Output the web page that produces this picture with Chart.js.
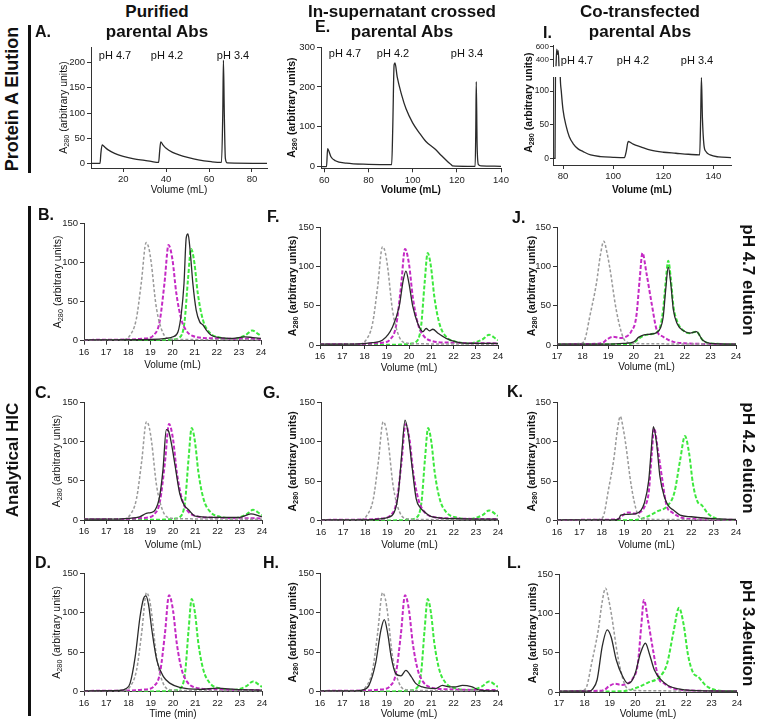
<!DOCTYPE html>
<html>
<head>
<meta charset="utf-8">
<script src="https://cdn.jsdelivr.net/npm/chart.js@4"></script>
<style>
body { margin: 0; width: 760px; height: 722px; position: relative; background: #fff; overflow: hidden;
       font-family: "Liberation Sans", Arial, sans-serif; color: #111; }
canvas, .t, .bar { position: absolute; }
.t { white-space: nowrap; line-height: 1; }
.bar { background: #111; width: 3px; }
</style>
</head>
<body>
<script>
// ---------- data ----------
// Protein A elution traces (volume mL, A280)
const elutionA = [[5,0],[9.2,0],[9.6,20],[10.2,37],[11,34],[13,27],[16,20],[20,14],[25,9],[30,6],[33,4],[36.5,2],
  [37,25],[37.5,43],[38.5,37],[40,30],[43,22],[46,17],[50,12],[55,7],[61,3.5],[65.8,2],[66.4,100],[66.7,205],
  [67.1,100],[67.6,10],[68.5,1],[87,0]];
const elutionE = [[58.5,0],[61,0],[61.5,45],[62,40],[63,25],[65,15],[70,9],[80,6],[90.5,5],[91,100],[91.6,255],
  [92,260],[93,225],[95,180],[97,145],[100,110],[103,85],[106,63],[110,45],[113,28],[116,12],[117.5,5],[118,2],
  [125,1],[128.3,1],[128.6,100],[128.8,213],[129.2,50],[129.8,5],[131,2],[140,1]];
const elutionI = [[76,0],[76.8,0],[77.2,300],[77.5,560],[77.8,480],[78.1,540],[78.5,200],[78.9,121],[79.3,100],
  [80,72],[81.3,47],[82.5,32],[84,22],[86,14],[88,10],[91,5],[95,2.5],[100,1.5],[104.5,1],[105.2,10],[106,25],
  [108,21],[111,17],[115,12],[120,9],[125,7.5],[130,6],[134.5,5],[134.9,60],[135.2,120],[135.6,60],[136.2,20],
  [137,10],[138.7,5],[142,2],[147,1]];

// HIC reference standards, columns 1 and 2
const grayRef = [[16,1],[17.8,1.5],[18.06,6],[18.36,27],[18.59,74],[18.81,125],[18.93,118],[19.04,99],[19.26,44],
  [19.56,10.5],[19.86,2.5],[20.5,1.5],[24,1]];
const magentaRef = [[16,1],[18,1.5],[18.6,2.5],[19,4],[19.11,6],[19.41,23],[19.64,74],[19.82,122],[20,103],
  [20.17,61],[20.4,27],[20.62,13],[20.92,6],[21.8,3],[24,2]];
const greenRef = [[16,0],[19.6,0.5],[20,1.5],[20.32,4],[20.54,23],[20.7,78],[20.84,117],[20.99,99],[21.14,61],
  [21.37,27],[21.67,10.5],[22.12,4],[22.7,2],[23.3,7],[23.6,13],[23.9,8],[24,6]];

// HIC reference standards, column 3
const grayRef3 = [[16,1],[17,1],[17.95,2],[18.1,8],[18.28,36],[18.54,78],[18.7,115],[18.83,132],[18.95,118],
  [19.06,99],[19.32,44],[19.58,10],[19.78,3],[20,2],[21,1.5],[24,1]];
const magentaRef3 = [[16,1],[18.6,1.5],[18.8,3],[18.95,7],[19.2,10.5],[19.45,9],[19.7,10.5],[19.9,17],[20.1,36],
  [20.24,86],[20.34,117],[20.5,91],[20.7,53],[20.9,19],[21.15,10.5],[21.55,4],[22.1,2],[23,1.3],[24,1]];
const greenRef3 = [[16,0],[19.5,1],[20.1,6],[20.5,12],[20.95,19],[21.25,36],[21.5,76],[21.72,107],[21.9,86],
  [22.08,46],[22.3,23],[22.45,20],[22.75,9],[23,4],[23.6,1],[24,1]];
const greenJ = [[17,1],[19.8,1],[20,3],[20.2,8],[20.4,12],[20.7,14],[20.9,16],[21.05,25],[21.15,45],[21.25,80],
  [21.35,107],[21.45,85],[21.55,50],[21.7,30],[21.95,18],[22.2,15],[22.45,17],[22.7,6],[23,2],[24,1]];

// HIC sample traces
const hicB = [[16,1],[19,1.5],[19.72,3],[20.02,5],[20.25,11.5],[20.4,35],[20.52,73],[20.62,131],[20.7,136],[20.8,114],
  [20.92,73],[21.07,39],[21.23,24],[21.38,20],[21.53,13.6],[21.75,7],[22.13,4],[22.73,3],[23.25,5],[23.63,4],[24,3]];
const hicC = [[16,1],[17.5,1],[18,2],[18.5,4],[18.8,8.5],[19,9.4],[19.2,12.8],[19.4,30],[19.55,64],[19.7,115],
  [19.8,113],[19.95,94],[20.1,68],[20.3,34],[20.5,19],[20.7,13],[21,5],[22,3.4],[23,3.4],[23.5,7.7],[23.8,6],[24,4]];
const hicD = [[16,1],[17.6,1.5],[17.9,4],[18.07,10.5],[18.3,44],[18.52,95],[18.68,118],[18.78,121],[18.9,110],
  [19.05,78],[19.27,40],[19.57,19],[19.87,10.5],[20.3,5.5],[21.2,3],[22,4.5],[22.8,3],[24,2]];
const hicF = [[16,1],[17.8,1.5],[18.36,3],[18.8,6],[19.26,23],[19.56,49],[19.74,82],[19.86,94],[20,78],[20.17,49],
  [20.4,27],[20.62,17],[20.77,21],[20.92,18],[21.07,20],[21.3,15],[21.67,8.4],[22.12,4],[22.7,2],[24,2]];
const hicG = [[16,1],[18,1],[18.6,2],[19,4],[19.3,10],[19.5,35],[19.65,85],[19.8,127],[19.95,108],[20.1,72],
  [20.3,28],[20.5,16],[20.6,13],[21,5],[22,2.5],[23,2],[24,2]];
const hicH = [[16,1],[17.6,1],[17.9,2],[18.2,8],[18.5,36],[18.74,78],[18.89,91],[19.04,74],[19.2,44],[19.4,23],
  [19.64,20],[19.86,27],[20.1,19],[20.3,10.5],[20.6,6],[21.2,4],[21.5,8],[21.8,6],[22.1,6],[22.4,8],[22.8,6.5],
  [23.17,2],[24,1]];
const hicJ = [[17,1],[19,1],[19.6,2],[20,4],[20.2,10],[20.4,13],[20.7,14],[20.9,16],[21.05,22],[21.15,35],[21.25,70],
  [21.35,99],[21.45,78],[21.55,45],[21.7,27],[21.95,18],[22.2,15],[22.45,17],[22.7,6],[23,2],[24,1]];
const hicK = [[16,1],[18.5,1],[18.75,2],[18.85,7],[19.1,8],[19.5,8.5],[19.75,13],[19.9,22],[20.1,51],[20.2,85],
  [20.31,119],[20.45,98],[20.6,56],[20.8,30],[21,18],[21.2,13.5],[21.5,7],[22,5],[23,2.5],[24,1.5]];
const hicL = [[17,1],[18.2,1],[18.3,3],[18.5,15.6],[18.7,58],[18.9,79],[19.05,70],[19.25,41],[19.5,20],[19.7,11],
  [19.85,13.5],[20,24],[20.2,49],[20.4,62],[20.55,49],[20.75,28],[21,16],[21.3,8],[21.7,4],[22.2,2],[24,1]];

// tick labels
const aXTicks = [20, 40, 60, 80];
const aYTicks = [0, 50, 100, 150, 200];
const eXTicks = [60, 80, 100, 120, 140];
const eYTicks = [0, 100, 200, 300];
const iXTicks = [80, 100, 120, 140];
const iYTicksLow = [0, 50, 100];
const iYTicksHigh = [400, 600];
const hicXTicks16 = [16, 17, 18, 19, 20, 21, 22, 23, 24];
const hicXTicks17 = [17, 18, 19, 20, 21, 22, 23, 24];
const hicYTicks = [0, 50, 100, 150];

// texts
const yTitleParts = ['A', '280', ' (arbitrary units)'];
const volTitle = 'Volume (mL)';
const timeTitle = 'Time (min)';
const headerLines = [['Purified', 'parental Abs'], ['In-supernatant crossed', 'parental Abs'], ['Co-transfected', 'parental Abs']];
const peakLabels = ['pH 4.7', 'pH 4.2', 'pH 3.4'];
const rowLabels = ['pH 4.7 elution', 'pH 4.2 elution', 'pH 3.4elution'];
const sectionLabels = ['Protein A Elution', 'Analytical HIC'];

// ---------- drawing ----------
Chart.defaults.font.family = '"Liberation Sans", Arial, sans-serif';
Chart.defaults.color = '#222';
const AX = '#333';
const GRAY = '#9a9a9a', MAGENTA = '#c42ac4', GREEN = '#3de83d', BLACK = '#2a2a2a';
const YW = 40, PAD_T = 8, PAD_R = 12;

// rotated y title with a real subscript (A280)
const subTitle = {
  id: 'subTitle',
  afterDraw(chart, args, o) {
    if (!o || o.x == null) return;
    const ctx = chart.ctx, a = chart.chartArea;
    const fam = Chart.defaults.font.family;
    const w = o.bold ? 'bold ' : '';
    const big = w + o.size + 'px ' + fam, small = w + (o.size * 0.7).toFixed(1) + 'px ' + fam;
    const parts = [[yTitleParts[0], big, 0], [yTitleParts[1], small, o.size * 0.3], [yTitleParts[2], big, 0]];
    let total = 0;
    ctx.save();
    parts.forEach(p => { ctx.font = p[1]; p.push(ctx.measureText(p[0]).width); total += p[3]; });
    ctx.translate(o.x, o.cy != null ? o.cy : (a.top + a.bottom) / 2);
    ctx.rotate(-Math.PI / 2);
    ctx.fillStyle = '#111';
    ctx.textBaseline = 'middle';
    ctx.textAlign = 'left';
    let x = -total / 2;
    parts.forEach(p => { ctx.font = p[1]; ctx.fillText(p[0], x, p[2]); x += p[3]; });
    ctx.restore();
  }
};

function line(pts, color, width, dash) {
  return {
    data: pts.map(([x, y]) => ({ x, y })),
    borderColor: color, borderWidth: width, borderDash: dash || [],
    pointRadius: 0, fill: false, cubicInterpolationMode: 'monotone'
  };
}

function addPanel(g, sets, o) {
  const padT = o.padT || PAD_T;
  const xFont = { size: 10, weight: o.xBold ? 'bold' : 'normal', lineHeight: 1.2 };
  const yTickSize = o.yTickSize || 9.5;
  const xh = o.noX ? 0 : g.xTitleY + 6 + 1 - g.b;
  const padB = o.noX ? 3 : 0;
  const left = g.l - YW, top = g.t - padT;
  const w = Math.round(g.r - g.l + YW + PAD_R);
  const h = Math.round(g.b - g.t + padT + xh + padB);
  const cv = document.createElement('canvas');
  cv.width = w; cv.height = h;
  cv.style.left = left + 'px';
  cv.style.top = top + 'px';
  document.body.appendChild(cv);

  const titleOpts = g.yTitleX == null ? {} : {
    x: g.yTitleX - left, cy: g.yTitleY != null ? g.yTitleY - top : null,
    size: 10.5, bold: !!o.yBold
  };

  new Chart(cv, {
    type: 'line',
    data: { datasets: sets },
    plugins: [subTitle],
    options: {
      responsive: false,
      animation: false,
      events: [],
      layout: { padding: { top: padT, right: PAD_R, left: 0, bottom: padB } },
      plugins: { legend: { display: false }, tooltip: { enabled: false }, subTitle: titleOpts },
      scales: {
        x: {
          type: 'linear', min: o.xMin, max: o.xMax, display: !o.noX,
          grid: { drawOnChartArea: false, drawTicks: true, tickLength: 4, color: AX },
          border: { display: true, color: AX, width: 1 },
          ticks: { font: { size: 9.5 }, padding: 2, maxRotation: 0, autoSkip: false, callback: v => String(v) },
          afterBuildTicks: s => { s.ticks = (o.xTicks || []).map(v => ({ value: v })); },
          afterFit: s => { s.height = xh; },
          title: { display: !!o.xTitle, text: o.xTitle, font: xFont, color: '#111', padding: { top: 0, bottom: 1 } }
        },
        y: {
          type: 'linear', min: o.yMin, max: o.yMax,
          grid: { drawOnChartArea: false, drawTicks: true, tickLength: o.tickLen || 4, color: AX },
          border: { display: true, color: AX, width: 1 },
          ticks: { font: { size: yTickSize }, padding: o.tickPad != null ? o.tickPad : 2, autoSkip: false, callback: v => String(v) },
          afterBuildTicks: s => { s.ticks = o.yTicks.map(v => ({ value: v })); },
          afterFit: s => { s.width = YW; }
        }
      }
    }
  });
}

function addText(txt, x, y, css, anchor, rot) {
  const d = document.createElement('div');
  d.className = 't';
  d.textContent = txt;
  d.style.cssText = css;
  d.style.left = x + 'px';
  d.style.top = y + 'px';
  const tx = anchor === 'left' ? '0' : '-50%';
  d.style.transform = 'translate(' + tx + ',-50%)' + (rot ? ' rotate(' + rot + 'deg)' : '');
  document.body.appendChild(d);
}

const hicRefs12 = () => [line(grayRef, GRAY, 1.5, [3, 2]), line(magentaRef, MAGENTA, 2, [4, 2]), line(greenRef, GREEN, 2, [4, 2])];
const hicRefs3 = (green) => [line(grayRef3, GRAY, 1.5, [3, 2]), line(magentaRef3, MAGENTA, 2, [4, 2]), line(green, GREEN, 2, [4, 2])];
const hic = (x0, ticks, title, yBold) => ({ xMin: x0, xMax: 24, yMin: 0, yMax: 150, xTicks: ticks, yTicks: hicYTicks, xTitle: title, yBold });

// top row: protein A elution
addPanel({ l: 90.7, t: 47, r: 267, b: 168, yTitleX: 64, xTitleY: 190 },
  [line(elutionA, BLACK, 1.3)],
  { xMin: 5, xMax: 87, yMin: -9, yMax: 231, xTicks: aXTicks, yTicks: aYTicks, xTitle: volTitle });
addPanel({ l: 320.7, t: 47.3, r: 500.7, b: 168.3, yTitleX: 291.5, xTitleY: 190 },
  [line(elutionE, BLACK, 1.3)],
  { xMin: 58.5, xMax: 140, yMin: -4, yMax: 300, xTicks: eXTicks, yTicks: eYTicks, xTitle: volTitle, xBold: true, yBold: true });
addPanel({ l: 553.3, t: 77.3, r: 731.7, b: 165, yTitleX: 529.5, yTitleY: 103, xTitleY: 190 },
  [line(elutionI, BLACK, 1.3)],
  { xMin: 76, xMax: 147, yMin: -10, yMax: 121, xTicks: iXTicks, yTicks: iYTicksLow, xTitle: volTitle,
    xBold: true, yBold: true, padT: 40, yTickSize: 8.5, tickLen: 3, tickPad: 1 });
addPanel({ l: 553.3, t: 45, r: 731.7, b: 69 },
  [line(elutionI, BLACK, 1.3)],
  { xMin: 76, xMax: 147, yMin: 300, yMax: 625, yTicks: iYTicksHigh, noX: true, yTickSize: 8, tickLen: 3, tickPad: 1 });

// HIC column 1
addPanel({ l: 84, t: 223.3, r: 261, b: 340.7, yTitleX: 58.3, xTitleY: 365 },
  [line(hicB, BLACK, 1.3), ...hicRefs12()], hic(16, hicXTicks16, volTitle, false));
addPanel({ l: 84, t: 402.3, r: 262, b: 520, yTitleX: 56.7, xTitleY: 545 },
  [line(hicC, BLACK, 1.3), ...hicRefs12()], hic(16, hicXTicks16, volTitle, false));
addPanel({ l: 84, t: 573.3, r: 262, b: 691.7, yTitleX: 56.7, xTitleY: 714 },
  [line(hicD, BLACK, 1.3), ...hicRefs12()], hic(16, hicXTicks16, timeTitle, false));
// HIC column 2
addPanel({ l: 320, t: 226.7, r: 498, b: 345, yTitleX: 293.3, xTitleY: 368 },
  [line(hicF, BLACK, 1.3), ...hicRefs12()], hic(16, hicXTicks16, volTitle, true));
addPanel({ l: 321, t: 402.3, r: 498, b: 520.7, yTitleX: 293.3, xTitleY: 545 },
  [line(hicG, BLACK, 1.3), ...hicRefs12()], hic(16, hicXTicks16, volTitle, true));
addPanel({ l: 320, t: 573.3, r: 498, b: 691.7, yTitleX: 293.3, xTitleY: 714 },
  [line(hicH, BLACK, 1.3), ...hicRefs12()], hic(16, hicXTicks16, volTitle, true));
// HIC column 3
addPanel({ l: 557, t: 226.7, r: 736, b: 345, yTitleX: 531.7, xTitleY: 367 },
  [line(hicJ, BLACK, 1.3), ...hicRefs3(greenJ)], hic(17, hicXTicks17, volTitle, true));
addPanel({ l: 557, t: 402.3, r: 736, b: 520.7, yTitleX: 531.7, xTitleY: 545 },
  [line(hicK, BLACK, 1.3), ...hicRefs3(greenRef3)], hic(16, hicXTicks16, volTitle, true));
addPanel({ l: 559, t: 574, r: 737, b: 692, yTitleX: 533.3, xTitleY: 714 },
  [line(hicL, BLACK, 1.3), ...hicRefs3(greenRef3)], hic(17, hicXTicks17, volTitle, true));

// headings
const headX = [157, 402, 640];
headerLines.forEach((lines, i) => {
  addText(lines[0], headX[i], 11, 'font-size:17px;font-weight:bold;', 'center');
  addText(lines[1], headX[i], 31, 'font-size:17px;font-weight:bold;', 'center');
});

// panel letters
const letterPos = [[35,32],[38,215],[35,393],[35,563],[315,27],[267,217],[263,393],[263,563],[543,33],[512,218],[507,392],[507,563]];
'ABCDEFGHIJKL'.split('').forEach((c, i) => {
  addText(c + '.', letterPos[i][0], letterPos[i][1], 'font-size:16px;font-weight:bold;', 'left');
});

// pH labels in the elution panels
const peakPos = [[[115,55],[167,55],[233,55]], [[345,53],[393,53],[467,53]], [[577,60],[633,60],[697,60]]];
peakPos.forEach(row => row.forEach((p, i) => addText(peakLabels[i], p[0], p[1], 'font-size:11px;', 'center')));

// right side row labels
[280, 458, 633].forEach((y, i) => addText(rowLabels[i], 748, y, 'font-size:17px;font-weight:bold;', 'center', 90));

// left side section labels and bars
addText(sectionLabels[0], 12, 99, 'font-size:18px;font-weight:bold;', 'center', -90);
addText(sectionLabels[1], 12, 460, 'font-size:17px;font-weight:bold;', 'center', -90);
[[25, 148], [206, 510]].forEach(([top, h]) => {
  const b = document.createElement('div');
  b.className = 'bar';
  b.style.left = '28px'; b.style.top = top + 'px'; b.style.height = h + 'px';
  document.body.appendChild(b);
});
</script>
</body>
</html>
